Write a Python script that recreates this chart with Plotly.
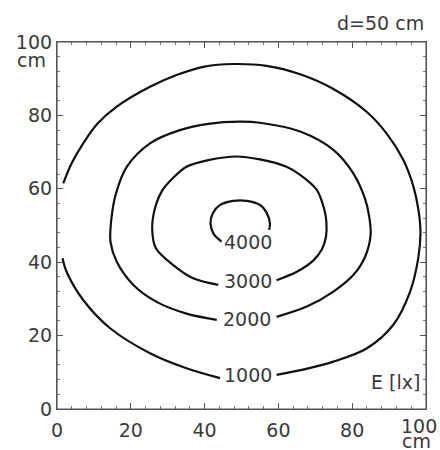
import plotly.graph_objects as go

# Isolux lines (x, y in cm); None separates open segments
c1000_x = [59.5, 67.0, 74.9, 83.9, 91.1, 95.7, 97.9, 98.5, 98.0, 96.6, 93.9, 89.3, 83.9, 74.9, 65.9, 56.8, 47.8, 40.0, 32.4, 25.2, 16.2, 11.0, 7.1, 4.0, 1.7,
           None, 1.5, 2.6, 7.1, 14.4, 25.2, 35.1, 44.2]
c1000_y = [9.3, 10.8, 12.9, 16.5, 22.9, 32.0, 41.1, 48.0, 54.0, 60.6, 67.8, 75.1, 81.0, 87.2, 91.2, 93.5, 94.0, 93.3, 91.0, 87.8, 82.4, 77.8, 72.4, 67.0, 61.5,
           None, 41.1, 37.4, 29.7, 22.0, 15.2, 11.1, 8.4]

c2000_x = [59.5, 67.7, 74.9, 80.3, 83.5, 85.0, 84.6, 83.4, 80.3, 74.9, 65.9, 55.0, 49.6, 41.0, 33.3, 25.2, 18.9, 16.0, 14.7, 14.5, 16.2, 20.7, 27.0, 35.1, 43.3]
c2000_y = [25.1, 27.9, 32.0, 36.5, 41.5, 47.5, 52.5, 57.5, 64.2, 70.6, 75.6, 78.0, 78.3, 77.7, 76.0, 72.4, 66.0, 58.8, 51.5, 45.5, 40.1, 33.8, 29.2, 26.0, 24.3]

c3000_x = [59.5, 65.0, 69.5, 71.8, 72.9, 73.0, 72.4, 70.4, 65.9, 62.2, 55.0, 48.7, 41.0, 35.1, 31.5, 28.5, 26.5, 25.8, 26.8, 31.5, 36.9, 43.7]
c3000_y = [35.1, 37.4, 40.5, 43.5, 47.0, 51.0, 54.5, 59.7, 63.8, 66.0, 68.0, 68.8, 67.8, 66.0, 63.0, 59.5, 54.5, 49.0, 43.8, 39.2, 35.6, 33.8]

c4000_x = [57.5, 57.7, 56.9, 55.0, 51.4, 47.8, 44.2, 42.2, 41.6, 42.4, 44.6]
c4000_y = [48.8, 50.6, 53.3, 55.6, 56.7, 56.7, 55.6, 53.3, 50.6, 47.8, 45.6]

level_labels = ["1000", "2000", "3000", "4000"]
label_x = [51.8, 51.6, 51.8, 51.8]
label_y = [9.3, 24.6, 35.0, 45.6]

tick_vals = [0, 20, 40, 60, 80, 100]
x_tick_text = ["0", "20", "40", "60", "80", ""]
y_tick_text = ["0", "20", "40", "60", "80", "100"]

FONT = "DejaVu Sans"
TXT = "#3a3a3a"

fig = go.Figure()
for xs, ys in [(c1000_x, c1000_y), (c2000_x, c2000_y), (c3000_x, c3000_y), (c4000_x, c4000_y)]:
    fig.add_trace(go.Scatter(x=xs, y=ys, mode="lines",
                             line=dict(color="#111111", width=2.2, shape="spline", smoothing=0.9),
                             connectgaps=False, showlegend=False, hoverinfo="skip"))

for t, x, y in zip(level_labels, label_x, label_y):
    fig.add_annotation(x=x, y=y, text=t, showarrow=False, xanchor="center", yanchor="middle",
                       font=dict(family=FONT, size=19, color=TXT))

fig.add_annotation(x=98.8, y=7.4, text="E [lx]", showarrow=False, xanchor="right", yanchor="middle",
                   font=dict(family=FONT, size=19, color=TXT))
fig.add_annotation(x=1.0, y=1.052, xref="paper", yref="paper", text="d=50 cm", showarrow=False,
                   xanchor="right", yanchor="middle", font=dict(family=FONT, size=19, color=TXT))
# unit labels and the last x tick label (kept inside the page)
fig.add_annotation(x=-0.025, y=0.952, xref="paper", yref="paper", text="cm", showarrow=False,
                   xanchor="right", yanchor="middle", font=dict(family=FONT, size=19, color=TXT))
fig.add_annotation(x=0.981, y=-0.047, xref="paper", yref="paper", text="100", showarrow=False,
                   xanchor="center", yanchor="middle", font=dict(family=FONT, size=19, color=TXT))
fig.add_annotation(x=1.016, y=-0.086, xref="paper", yref="paper", text="cm", showarrow=False,
                   xanchor="right", yanchor="middle", borderpad=0,
                   font=dict(family=FONT, size=19, color=TXT))

fig.add_shape(type="rect", xref="paper", yref="paper", x0=0, y0=0, x1=1, y1=1,
              line=dict(color="#555555", width=1.2), layer="above")

axis_common = dict(range=[0, 100], tickvals=tick_vals, ticks="inside", ticklen=6,
                   tickwidth=1, tickcolor="#555555", showline=True, linecolor="#555555", linewidth=1.2,
                   mirror="allticks", showgrid=False, zeroline=False, automargin=False,
                   tickfont=dict(family=FONT, size=19, color=TXT),
                   minor=dict(dtick=4, ticks="inside", ticklen=3, tickcolor="#777777", showgrid=False))

fig.update_layout(
    width=440, height=450,
    margin=dict(l=57, r=14, t=42, b=41),
    paper_bgcolor="white", plot_bgcolor="white",
    xaxis=dict(ticktext=x_tick_text, ticklabelstandoff=4, **axis_common),
    yaxis=dict(ticktext=y_tick_text, **axis_common),
)

fig.write_html("out.html", config={"displayModeBar": False},
               post_script="document.body.style.margin='0';document.body.style.overflow='hidden';")
